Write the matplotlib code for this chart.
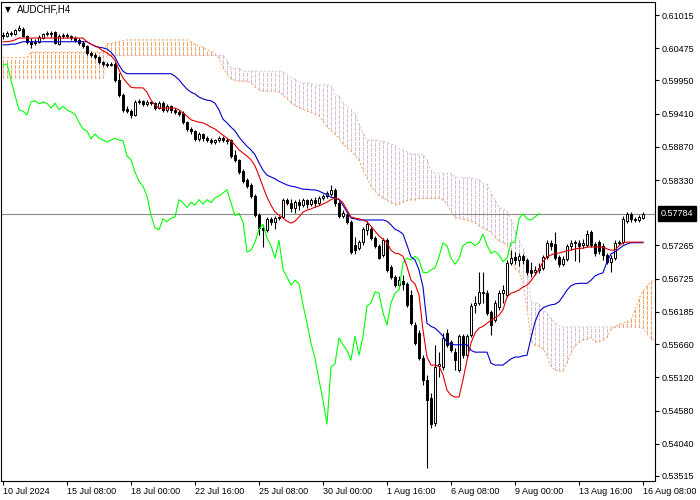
import matplotlib
matplotlib.use("Agg")
import matplotlib.pyplot as plt
import numpy as np
from matplotlib.transforms import blended_transform_factory

plt.rcParams["font.family"] = ["Liberation Sans", "DejaVu Sans"]

symbol = "AUDCHF,H4"
date_labels = ["10 Jul 2024", "15 Jul 08:00", "18 Jul 00:00", "22 Jul 16:00", "25 Jul 08:00",
               "30 Jul 00:00", "1 Aug 16:00", "6 Aug 08:00", "9 Aug 00:00", "13 Aug 16:00",
               "16 Aug 08:00"]
date_label_bars = [0, 16, 32, 48, 64, 80, 96, 112, 128, 144, 160]
price_ticks = [0.61015, 0.60475, 0.59950, 0.59410, 0.58870, 0.58330, 0.57265,
               0.56725, 0.56185, 0.55660, 0.55120, 0.54580, 0.54040, 0.53515]
last_price = 0.57784

open_ = [0.6069, 0.6067, 0.6072, 0.6071, 0.6077, 0.6079, 0.6067, 0.6058, 0.6056, 0.6058,
         0.6064, 0.6071, 0.6071, 0.6074, 0.6054, 0.6067, 0.6069, 0.6067, 0.6064, 0.6061,
         0.6056, 0.6051, 0.6040, 0.6036, 0.6033, 0.6025, 0.6022, 0.6020, 0.6022, 0.5996,
         0.5971, 0.5949, 0.5945, 0.5939, 0.5960, 0.5962, 0.5957, 0.5960, 0.5958, 0.5950,
         0.5958, 0.5947, 0.5953, 0.5947, 0.5944, 0.5942, 0.5927, 0.5916, 0.5913, 0.5900,
         0.5908, 0.5901, 0.5898, 0.5895, 0.5898, 0.5901, 0.5898, 0.5898, 0.5874, 0.5866,
         0.5848, 0.5833, 0.5825, 0.5807, 0.5776, 0.5755, 0.5752, 0.5770, 0.5765, 0.5771,
         0.5773, 0.5801, 0.5796, 0.5788, 0.5797, 0.5792, 0.5801, 0.5794, 0.5801, 0.5796,
         0.5804, 0.5807, 0.5810, 0.5817, 0.5796, 0.5775, 0.5776, 0.5765, 0.5727, 0.5722,
         0.5732, 0.5752, 0.5753, 0.5739, 0.5726, 0.5711, 0.5735, 0.5692, 0.5675, 0.5662,
         0.5669, 0.5664, 0.5646, 0.5597, 0.5584, 0.5543, 0.5508, 0.5478, 0.5438, 0.5530,
         0.5529, 0.5584, 0.5569, 0.5553, 0.5524, 0.5579, 0.5548, 0.5581, 0.5630, 0.5633,
         0.5651, 0.5649, 0.5618, 0.5605, 0.5626, 0.5649, 0.5646, 0.5698, 0.5708, 0.5703,
         0.5709, 0.5703, 0.5687, 0.5683, 0.5687, 0.5690, 0.5708, 0.5731, 0.5729, 0.5708,
         0.5696, 0.5705, 0.5726, 0.5731, 0.5731, 0.5727, 0.5727, 0.5748, 0.5729, 0.5732,
         0.5726, 0.5711, 0.5700, 0.5706, 0.5731, 0.5732, 0.5766, 0.5778, 0.5770, 0.5768,
         0.5771]
high = [0.6074, 0.6075, 0.6075, 0.6079, 0.6085, 0.6082, 0.6069, 0.6064, 0.6062, 0.6069,
        0.6072, 0.6075, 0.6075, 0.6075, 0.6071, 0.6072, 0.6072, 0.6069, 0.6067, 0.6064,
        0.6059, 0.6053, 0.6043, 0.6040, 0.6035, 0.6027, 0.6025, 0.6025, 0.6025, 0.6007,
        0.5975, 0.5953, 0.5949, 0.5963, 0.5965, 0.5963, 0.5963, 0.5962, 0.5960, 0.5962,
        0.5962, 0.5957, 0.5955, 0.5950, 0.5947, 0.5945, 0.5929, 0.5919, 0.5914, 0.5911,
        0.5910, 0.5905, 0.5901, 0.5900, 0.5905, 0.5905, 0.5901, 0.5900, 0.5882, 0.5867,
        0.5851, 0.5836, 0.5828, 0.5810, 0.5779, 0.5760, 0.5773, 0.5773, 0.5775, 0.5775,
        0.5804, 0.5804, 0.5802, 0.5801, 0.5802, 0.5804, 0.5802, 0.5804, 0.5805, 0.5807,
        0.5810, 0.5815, 0.5825, 0.5820, 0.5799, 0.5784, 0.5779, 0.5768, 0.5740, 0.5735,
        0.5757, 0.5766, 0.5757, 0.5742, 0.5729, 0.5739, 0.5739, 0.5695, 0.5678, 0.5677,
        0.5678, 0.5667, 0.5654, 0.5602, 0.5589, 0.5548, 0.5516, 0.5487, 0.5565, 0.5553,
        0.5584, 0.5591, 0.5573, 0.5560, 0.5582, 0.5582, 0.5582, 0.5633, 0.5644, 0.5683,
        0.5683, 0.5654, 0.5622, 0.5638, 0.5654, 0.5662, 0.5703, 0.5719, 0.5716, 0.5714,
        0.5713, 0.5706, 0.5700, 0.5693, 0.5698, 0.5711, 0.5735, 0.5735, 0.5748, 0.5711,
        0.5709, 0.5729, 0.5735, 0.5735, 0.5735, 0.5737, 0.5752, 0.5752, 0.5732, 0.5735,
        0.5731, 0.5714, 0.5711, 0.5735, 0.5735, 0.5775, 0.5781, 0.5781, 0.5773, 0.5776,
        0.5781]
low = [0.6062, 0.6066, 0.6067, 0.6069, 0.6075, 0.6066, 0.6054, 0.6048, 0.6053, 0.6056,
       0.6062, 0.6067, 0.6066, 0.6054, 0.6053, 0.6064, 0.6064, 0.6061, 0.6058, 0.6053,
       0.6048, 0.6036, 0.6033, 0.6030, 0.6022, 0.6019, 0.6017, 0.6019, 0.5993, 0.5968,
       0.5944, 0.5942, 0.5934, 0.5937, 0.5957, 0.5953, 0.5953, 0.5955, 0.5947, 0.5949,
       0.5944, 0.5944, 0.5942, 0.5940, 0.5937, 0.5924, 0.5913, 0.5908, 0.5897, 0.5897,
       0.5897, 0.5895, 0.5892, 0.5892, 0.5895, 0.5895, 0.5892, 0.5869, 0.5862, 0.5843,
       0.5828, 0.5820, 0.5804, 0.5773, 0.5744, 0.5724, 0.5748, 0.5760, 0.5753, 0.5768,
       0.5771, 0.5792, 0.5781, 0.5779, 0.5784, 0.5789, 0.5788, 0.5791, 0.5789, 0.5792,
       0.5801, 0.5804, 0.5807, 0.5791, 0.5771, 0.5771, 0.5761, 0.5713, 0.5713, 0.5719,
       0.5727, 0.5744, 0.5735, 0.5722, 0.5705, 0.5708, 0.5683, 0.5672, 0.5659, 0.5657,
       0.5654, 0.5626, 0.5597, 0.5565, 0.5540, 0.5500, 0.5364, 0.5430, 0.5433, 0.5513,
       0.5524, 0.5561, 0.5553, 0.5524, 0.5521, 0.5543, 0.5545, 0.5578, 0.5617, 0.5630,
       0.5633, 0.5613, 0.5581, 0.5602, 0.5622, 0.5633, 0.5643, 0.5695, 0.5696, 0.5693,
       0.5696, 0.5678, 0.5675, 0.5678, 0.5682, 0.5687, 0.5705, 0.5719, 0.5703, 0.5692,
       0.5693, 0.5701, 0.5719, 0.5701, 0.5700, 0.5722, 0.5724, 0.5724, 0.5709, 0.5713,
       0.5703, 0.5696, 0.5683, 0.5703, 0.5727, 0.5729, 0.5763, 0.5765, 0.5765, 0.5765,
       0.5770]
close = [0.6067, 0.6072, 0.6071, 0.6077, 0.6080, 0.6067, 0.6058, 0.6054, 0.6058, 0.6066,
         0.6071, 0.6072, 0.6072, 0.6056, 0.6067, 0.6069, 0.6067, 0.6064, 0.6061, 0.6056,
         0.6051, 0.6040, 0.6036, 0.6033, 0.6025, 0.6022, 0.6020, 0.6022, 0.5996, 0.5971,
         0.5947, 0.5945, 0.5939, 0.5960, 0.5962, 0.5957, 0.5960, 0.5958, 0.5950, 0.5958,
         0.5947, 0.5953, 0.5947, 0.5944, 0.5940, 0.5927, 0.5916, 0.5913, 0.5900, 0.5908,
         0.5901, 0.5898, 0.5895, 0.5898, 0.5901, 0.5898, 0.5897, 0.5872, 0.5866, 0.5846,
         0.5831, 0.5823, 0.5807, 0.5776, 0.5755, 0.5752, 0.5770, 0.5765, 0.5771, 0.5773,
         0.5801, 0.5796, 0.5788, 0.5797, 0.5792, 0.5801, 0.5794, 0.5801, 0.5796, 0.5804,
         0.5807, 0.5812, 0.5817, 0.5796, 0.5775, 0.5779, 0.5765, 0.5716, 0.5719, 0.5732,
         0.5753, 0.5761, 0.5739, 0.5726, 0.5706, 0.5735, 0.5687, 0.5675, 0.5662, 0.5670,
         0.5664, 0.5630, 0.5600, 0.5568, 0.5543, 0.5508, 0.5475, 0.5436, 0.5529, 0.5534,
         0.5576, 0.5565, 0.5556, 0.5540, 0.5579, 0.5548, 0.5579, 0.5628, 0.5633, 0.5651,
         0.5649, 0.5617, 0.5597, 0.5633, 0.5649, 0.5654, 0.5698, 0.5706, 0.5703, 0.5709,
         0.5703, 0.5683, 0.5682, 0.5687, 0.5690, 0.5708, 0.5731, 0.5726, 0.5706, 0.5696,
         0.5705, 0.5726, 0.5731, 0.5732, 0.5726, 0.5731, 0.5745, 0.5727, 0.5714, 0.5717,
         0.5711, 0.5700, 0.5706, 0.5731, 0.5732, 0.5770, 0.5778, 0.5770, 0.5768, 0.5773,
         0.57784]

tenkan = [0.6058, 0.6058, 0.6059, 0.6061, 0.6064, 0.6064, 0.6064, 0.6064, 0.6064, 0.6064,
          0.6064, 0.6064, 0.6064, 0.6064, 0.6064, 0.6064, 0.6064, 0.6064, 0.6064, 0.6064,
          0.6064, 0.6058, 0.6054, 0.6051, 0.6048, 0.6043, 0.6040, 0.6035, 0.6028, 0.6012,
          0.5999, 0.5991, 0.5984, 0.5983, 0.5983, 0.5983, 0.5976, 0.5963, 0.5955, 0.5950,
          0.5950, 0.5950, 0.5950, 0.5950, 0.5947, 0.5942, 0.5937, 0.5931, 0.5929, 0.5927,
          0.5926, 0.5923, 0.5919, 0.5916, 0.5911, 0.5906, 0.5901, 0.5897, 0.5890, 0.5882,
          0.5877, 0.5872, 0.5866, 0.5856, 0.5840, 0.5822, 0.5805, 0.5792, 0.5781, 0.5776,
          0.5771, 0.5766, 0.5763, 0.5766, 0.5773, 0.5781, 0.5784, 0.5786, 0.5789, 0.5791,
          0.5794, 0.5797, 0.5801, 0.5804, 0.5802, 0.5796, 0.5784, 0.5773, 0.5771, 0.5770,
          0.5768, 0.5765, 0.5758, 0.5750, 0.5742, 0.5737, 0.5731, 0.5719, 0.5714, 0.5713,
          0.5709, 0.5692, 0.5670, 0.5664, 0.5646, 0.5589, 0.5545, 0.5532, 0.5532, 0.5530,
          0.5516, 0.5491, 0.5483, 0.5480, 0.5480, 0.5508, 0.5540, 0.5568, 0.5584, 0.5592,
          0.5595, 0.5600, 0.5605, 0.5609, 0.5613, 0.5622, 0.5643, 0.5649, 0.5651, 0.5654,
          0.5659, 0.5662, 0.5669, 0.5678, 0.5687, 0.5700, 0.5708, 0.5711, 0.5714, 0.5714,
          0.5716, 0.5718, 0.5719, 0.5721, 0.5722, 0.5722, 0.5724, 0.5724, 0.5724, 0.5724,
          0.5724, 0.5721, 0.5719, 0.5719, 0.5726, 0.5731, 0.5732, 0.5732, 0.5732, 0.5732,
          0.5732]
kijun = [0.6053, 0.6053, 0.6054, 0.6054, 0.6056, 0.6058, 0.6058, 0.6058, 0.6058, 0.6058,
         0.6058, 0.6058, 0.6058, 0.6058, 0.6058, 0.6058, 0.6058, 0.6058, 0.6058, 0.6058,
         0.6058, 0.6058, 0.6054, 0.6051, 0.6049, 0.6048, 0.6046, 0.6041, 0.6033, 0.6020,
         0.6010, 0.6006, 0.6006, 0.6006, 0.6006, 0.6006, 0.6006, 0.6006, 0.6006, 0.6006,
         0.6006, 0.6006, 0.6006, 0.6002, 0.5996, 0.5988, 0.5981, 0.5976, 0.5973, 0.5968,
         0.5965, 0.5963, 0.5962, 0.5958, 0.5947, 0.5932, 0.5926, 0.5919, 0.5913, 0.5903,
         0.5895, 0.5888, 0.5882, 0.5874, 0.5861, 0.5849, 0.5841, 0.5838, 0.5835, 0.5831,
         0.5828, 0.5825, 0.5823, 0.5822, 0.5820, 0.5818, 0.5818, 0.5817, 0.5817, 0.5815,
         0.5812, 0.5809, 0.5805, 0.5804, 0.5801, 0.5792, 0.5781, 0.5771, 0.5770, 0.5768,
         0.5768, 0.5768, 0.5768, 0.5768, 0.5768, 0.5768, 0.5766, 0.5760, 0.5753, 0.5750,
         0.5745, 0.5727, 0.5708, 0.5703, 0.5687, 0.5659, 0.5600, 0.5595, 0.5592, 0.5586,
         0.5579, 0.5569, 0.5565, 0.5565, 0.5565, 0.5565, 0.5565, 0.5556, 0.5553, 0.5553,
         0.5553, 0.5553, 0.5535, 0.5532, 0.5532, 0.5532, 0.5537, 0.5542, 0.5545, 0.5545,
         0.5547, 0.5548, 0.5576, 0.5602, 0.5618, 0.5625, 0.5628, 0.5630, 0.5631, 0.5635,
         0.5644, 0.5654, 0.5661, 0.5664, 0.5665, 0.5665, 0.5665, 0.5670, 0.5677, 0.5680,
         0.5682, 0.5700, 0.5713, 0.5716, 0.5721, 0.5726, 0.5729, 0.5731, 0.5731, 0.5731,
         0.5731]
span_a = [0.6032, 0.6032, 0.6032, 0.6032, 0.6032, 0.6032, 0.6032, 0.6041, 0.6041, 0.6041,
          0.6041, 0.6041, 0.6041, 0.6041, 0.6041, 0.6041, 0.6041, 0.6041, 0.6041, 0.6041,
          0.6041, 0.6041, 0.6041, 0.6041, 0.6041, 0.6041, 0.6055, 0.6055, 0.6057, 0.6058,
          0.6060, 0.6061, 0.6061, 0.6061, 0.6061, 0.6061, 0.6061, 0.6061, 0.6061, 0.6061,
          0.6061, 0.6061, 0.6061, 0.6061, 0.6061, 0.6061, 0.6061, 0.6058, 0.6054, 0.6051,
          0.6049, 0.6045, 0.6043, 0.6038, 0.6031, 0.6016, 0.6005, 0.5998, 0.5995, 0.5994,
          0.5994, 0.5994, 0.5991, 0.5984, 0.5980, 0.5978, 0.5978, 0.5978, 0.5978, 0.5976,
          0.5971, 0.5965, 0.5959, 0.5954, 0.5951, 0.5948, 0.5945, 0.5943, 0.5940, 0.5937,
          0.5929, 0.5919, 0.5914, 0.5908, 0.5901, 0.5892, 0.5886, 0.5880, 0.5874, 0.5865,
          0.5850, 0.5836, 0.5823, 0.5815, 0.5808, 0.5804, 0.5800, 0.5796, 0.5793, 0.5794,
          0.5797, 0.5800, 0.5801, 0.5801, 0.5803, 0.5803, 0.5803, 0.5803, 0.5803, 0.5804,
          0.5801, 0.5794, 0.5783, 0.5772, 0.5771, 0.5769, 0.5768, 0.5766, 0.5763, 0.5759,
          0.5755, 0.5752, 0.5748, 0.5740, 0.5734, 0.5731, 0.5727, 0.5709, 0.5689, 0.5683,
          0.5666, 0.5624, 0.5573, 0.5564, 0.5563, 0.5558, 0.5548, 0.5530, 0.5524, 0.5522,
          0.5522, 0.5536, 0.5552, 0.5563, 0.5569, 0.5573, 0.5574, 0.5577, 0.5570, 0.5570,
          0.5573, 0.5577, 0.5590, 0.5595, 0.5598, 0.5600, 0.5603, 0.5605, 0.5622, 0.5640,
          0.5652, 0.5662, 0.5668, 0.5670]
span_b = [0.5999, 0.5999, 0.5999, 0.5999, 0.5999, 0.5999, 0.5999, 0.5999, 0.5999, 0.5999,
          0.5999, 0.5999, 0.5999, 0.5999, 0.5999, 0.5999, 0.5999, 0.5999, 0.5999, 0.5999,
          0.5999, 0.5999, 0.5999, 0.5999, 0.5999, 0.5999, 0.6036, 0.6036, 0.6036, 0.6036,
          0.6036, 0.6036, 0.6036, 0.6036, 0.6036, 0.6036, 0.6036, 0.6036, 0.6036, 0.6036,
          0.6036, 0.6036, 0.6036, 0.6036, 0.6036, 0.6036, 0.6036, 0.6036, 0.6036, 0.6036,
          0.6036, 0.6036, 0.6036, 0.6036, 0.6036, 0.6036, 0.6028, 0.6015, 0.6015, 0.6015,
          0.6010, 0.6010, 0.6010, 0.6010, 0.6010, 0.6010, 0.6010, 0.6010, 0.6010, 0.6010,
          0.6010, 0.6005, 0.5999, 0.5997, 0.5991, 0.5991, 0.5991, 0.5990, 0.5988, 0.5988,
          0.5988, 0.5988, 0.5987, 0.5972, 0.5969, 0.5959, 0.5952, 0.5948, 0.5940, 0.5924,
          0.5910, 0.5898, 0.5898, 0.5898, 0.5897, 0.5896, 0.5894, 0.5892, 0.5888, 0.5884,
          0.5882, 0.5879, 0.5875, 0.5875, 0.5875, 0.5875, 0.5866, 0.5849, 0.5844, 0.5844,
          0.5844, 0.5844, 0.5844, 0.5838, 0.5837, 0.5837, 0.5837, 0.5837, 0.5835, 0.5834,
          0.5827, 0.5826, 0.5814, 0.5800, 0.5789, 0.5786, 0.5783, 0.5768, 0.5751, 0.5735,
          0.5722, 0.5702, 0.5635, 0.5633, 0.5632, 0.5623, 0.5616, 0.5608, 0.5600, 0.5596,
          0.5594, 0.5594, 0.5594, 0.5594, 0.5594, 0.5594, 0.5594, 0.5594, 0.5594, 0.5594,
          0.5594, 0.5594, 0.5594, 0.5594, 0.5594, 0.5594, 0.5594, 0.5594, 0.5594, 0.5594,
          0.5592, 0.5582, 0.5575, 0.5572]

CHIKOU_SHIFT = 26
SANDY = "#F4A460"
THISTLE = "#D8BFD8"

o = np.array(open_)
h = np.array(high)
l = np.array(low)
c = np.array(close)
n = len(c)
xb = np.arange(n)

fig = plt.figure(figsize=(7, 5), dpi=100)
fig.patch.set_facecolor("white")
ax = fig.add_axes([1 / 700, 19 / 500, 654 / 700, 479 / 500])
ax.set_facecolor("white")
ax.set_xlim(-0.5, 163.0)
ax.set_ylim(0.534336, 0.612265)

# Kumo (cloud) as dotted histogram
sa = np.array(span_a)
sb = np.array(span_b)
xc = np.arange(len(sa))
up = sa >= sb
ax.vlines(xc[up], sb[up], sa[up], colors=SANDY, linestyles=(0, (3, 1.5)),
          linewidth=0.72, antialiased=False, zorder=1)
ax.vlines(xc[~up], sa[~up], sb[~up], colors=THISTLE, linestyles=(0, (3, 1.5)),
          linewidth=0.72, antialiased=False, zorder=1)
ax.plot(xc, sa, color=SANDY, ls=(0, (2, 2)), lw=0.72, zorder=1)
ax.plot(xc, sb, color=THISTLE, ls=(0, (2, 2)), lw=0.72, zorder=1)

# current price line
ax.axhline(last_price, color="#8c8c8c", lw=0.8, zorder=1.5)

# candles
ax.vlines(xb, l, h, color="black", lw=0.8, zorder=2)
bull = c >= o
body_h = np.maximum(np.abs(c - o), 0.00004)
body_b = np.minimum(o, c)
ax.bar(xb[bull], body_h[bull], bottom=body_b[bull], width=0.55, color="white",
       edgecolor="black", linewidth=0.7, zorder=2.5)
ax.bar(xb[~bull], body_h[~bull], bottom=body_b[~bull], width=0.55, color="black",
       edgecolor="black", linewidth=0.7, zorder=2.5)

# Ichimoku lines
ax.plot(xb[:n - CHIKOU_SHIFT], c[CHIKOU_SHIFT:], color="#00FF00", lw=0.8, zorder=3)
ax.plot(xb, tenkan, color="#E00000", lw=0.8, zorder=3.2)
ax.plot(xb, kijun, color="#0000CC", lw=0.8, zorder=3.1)

# axes styling
for s in ax.spines.values():
    s.set_color("black")
    s.set_linewidth(0.8)
ax.yaxis.tick_right()
ax.set_yticks(price_ticks)
ax.set_yticklabels(["%.5f" % p for p in price_ticks])
ax.tick_params(axis="y", direction="out", length=3, width=0.8, pad=2, labelsize=6.5, colors="black")
ax.set_xticks(date_label_bars)
ax.set_xticklabels(date_labels)
ax.tick_params(axis="x", direction="out", length=3, width=0.8, pad=1.5, labelsize=6.5, colors="black")
for lab in ax.get_xticklabels():
    lab.set_horizontalalignment("left")

trans = blended_transform_factory(ax.transAxes, ax.transData)
ax.text(1.0 + 6 / 654, last_price, "%.5f" % last_price, transform=trans, ha="left", va="center",
        color="white", fontsize=6.5,
        bbox=dict(boxstyle="square,pad=0.3", fc="black", ec="black"))

fig.text(5 / 700, 1 - 10 / 500, "\u25BC", fontsize=5.5, ha="left", va="center", color="black",
         family=["DejaVu Sans"])
fig.text(17 / 700, 1 - 10 / 500, symbol, fontsize=7, ha="left", va="center", color="black")

fig.savefig("out.png", dpi=100, facecolor="white")
